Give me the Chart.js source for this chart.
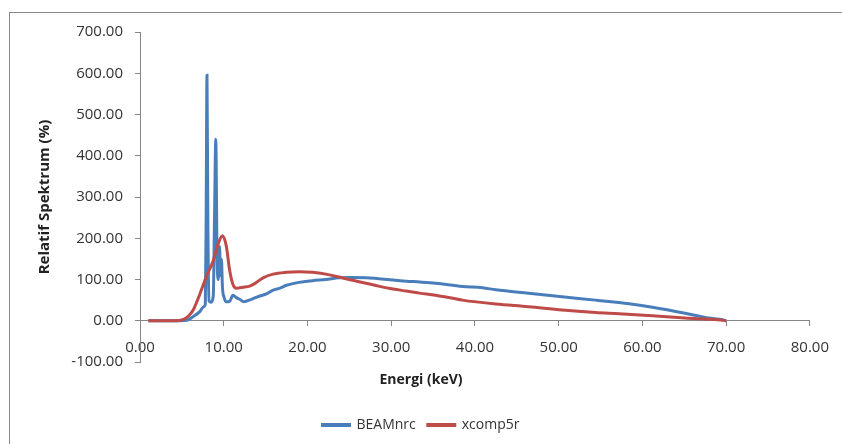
<!DOCTYPE html>
<html>
<head>
<meta charset="utf-8">
<script src="https://cdn.jsdelivr.net/npm/chart.js@4.4.1/dist/chart.umd.min.js"></script>
<style>
  html, body { margin: 0; padding: 0; background: #fff; overflow: hidden; }
  #wrap { position: relative; width: 842px; height: 444px; overflow: hidden; }
  #frame { position: absolute; left: 9px; top: 12px; width: 900px; height: 500px; border: 1px solid #888; }
  canvas { position: absolute; left: 0; top: 0; }
</style>
</head>
<body>
<div id="wrap">
  <div id="frame"></div>
  <canvas id="chart" width="842" height="444"></canvas>
</div>
<script>
// energy (keV) and relative spectrum (%)
const beamEnergy = [1, 2, 3, 4, 4.8, 5.6, 6.35, 7.14, 7.6, 7.8, 7.9, 8.0, 8.1, 8.25, 8.5,
  8.75, 8.9, 9.05, 9.2, 9.35, 9.5, 9.6, 9.72, 9.85, 10.05, 10.3, 10.7, 11.1, 11.5, 11.9,
  12.4, 13.3, 14.3, 15.1, 15.9, 16.7, 17.5, 19.0, 20.6, 22.2, 23.8, 25.4, 27.0, 28.5, 30.2,
  31.8, 33.4, 35.3, 38.5, 40.9, 42.5, 46.4, 50.4, 54.4, 57.2, 58.4, 61.2, 65.1, 67.5, 69.8, 70];
const beamValues = [0, 0, 0, 0, 0, 1, 10, 22, 34, 40, 250, 595, 250, 48, 45,
  60, 250, 440, 160, 100, 180, 110, 150, 80, 56, 46, 47, 62, 56, 52,
  46, 52, 60, 65, 74, 79, 86, 93, 97, 100, 104, 105, 104.5, 102, 99,
  96, 94, 91, 83, 80, 75, 66.5, 58, 50, 44, 41, 32.5, 18, 8, 1.5, 0];

const xcompEnergy = [1, 2, 3, 4, 4.6, 5.2, 5.6, 6.0, 6.4, 7.1, 7.9, 8.7, 9.3, 9.85, 10.3,
  10.7, 11.1, 11.5, 12.3, 13.1, 13.7, 14.7, 15.9, 17.5, 19.0, 20.6, 22.2, 23.8, 25.4, 27.0,
  28.5, 30.2, 31.8, 33.4, 35.3, 38.5, 42.5, 46.4, 50.4, 54.4, 57.2, 61.2, 65.1, 69.0, 70];
const xcompValues = [0, 0, 0, 0, 0.5, 3, 8, 16, 28, 62, 106, 143, 184, 206, 182,
  123, 88, 79, 81, 84, 90, 104, 113, 117.5, 119, 117.5, 113, 106, 98, 91,
  84, 77, 72, 67, 62, 50, 40.5, 34, 26, 20, 17, 12, 6.5, 2.5, 0];

const seriesNames = ['BEAMnrc', 'xcomp5r'];
const seriesColors = ['#4a7ebb', '#be4b48'];

const toPoints = (xs, ys) => xs.map((x, i) => ({ x: x, y: ys[i] }));

Chart.defaults.font.family = "'Open Sans', sans-serif";

const axisColor = '#868686';
const tickFont = { size: 15 };

new Chart(document.getElementById('chart'), {
  type: 'line',
  data: {
    datasets: [
      {
        label: seriesNames[0],
        data: toPoints(beamEnergy, beamValues),
        borderColor: seriesColors[0],
        backgroundColor: seriesColors[0],
        borderWidth: 3,
        pointRadius: 0,
        cubicInterpolationMode: 'monotone',
        order: 1
      },
      {
        label: seriesNames[1],
        data: toPoints(xcompEnergy, xcompValues),
        borderColor: seriesColors[1],
        backgroundColor: seriesColors[1],
        borderWidth: 3,
        pointRadius: 0,
        cubicInterpolationMode: 'monotone',
        order: 0
      }
    ]
  },
  options: {
    responsive: false,
    animation: false,
    layout: { padding: { left: 30, right: 30, top: 32, bottom: 2 } },
    scales: {
      x: {
        type: 'linear',
        min: 0,
        max: 80,
        position: { y: 0 },
        grid: { drawOnChartArea: false, drawTicks: true, tickLength: 5, color: axisColor },
        border: { color: axisColor },
        ticks: {
          stepSize: 10,
          padding: 13,
          color: '#333',
          font: tickFont,
          maxRotation: 0,
          callback: (v) => v.toFixed(2)
        }
      },
      y: {
        min: -100,
        max: 700,
        grid: { drawOnChartArea: false, drawTicks: true, tickLength: 5, color: axisColor },
        border: { color: axisColor },
        ticks: {
          stepSize: 100,
          padding: 12,
          color: '#333',
          font: tickFont,
          callback: (v) => v.toFixed(2)
        },
        title: {
          display: true,
          text: 'Relatif Spektrum (%)',
          color: '#222',
          font: { size: 15, weight: 'bold' },
          padding: { top: 6, bottom: 0 }
        },
        afterFit: (scale) => { scale.width = 110; }
      }
    },
    plugins: {
      // x axis title sits right under the plot, above the legend
      title: {
        display: true,
        text: 'Energi (keV)',
        position: 'bottom',
        weight: 500,
        color: '#222',
        font: { size: 14, weight: 'bold' },
        padding: { top: 9.6, bottom: 17.6 }
      },
      legend: {
        position: 'bottom',
        labels: {
          boxWidth: 27,
          boxHeight: 1,
          padding: 12,
          color: '#333',
          font: { size: 14 },
          sort: (a, b) => a.datasetIndex - b.datasetIndex
        }
      },
      tooltip: { enabled: false }
    }
  }
});
</script>
</body>
</html>
